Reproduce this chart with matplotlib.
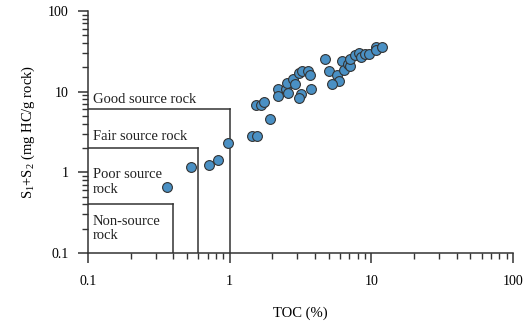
import matplotlib.pyplot as plt
from matplotlib.ticker import FuncFormatter, LogLocator

plt.rcParams["font.family"] = ["Liberation Serif", "DejaVu Serif"]
plt.rcParams["mathtext.fontset"] = "custom"
plt.rcParams["mathtext.rm"] = "Liberation Serif"
plt.rcParams["mathtext.it"] = "Liberation Serif:italic"

# TOC (%) and S1+S2 (mg HC/g rock)
toc = [0.36, 0.53, 0.71, 0.83, 0.98, 1.44, 1.56, 1.93, 1.54, 1.66, 1.75,
       2.18, 2.21, 2.50, 2.54, 2.78, 2.90, 2.58, 3.19, 3.08, 3.11, 3.24,
       3.57, 3.71, 3.75, 4.71, 5.02, 5.69, 5.91, 5.27, 6.17, 6.44, 6.80,
       7.11, 7.11, 7.71, 8.13, 8.46, 9.03, 9.68, 10.7, 10.8, 11.9]
s1s2 = [0.65, 1.17, 1.23, 1.42, 2.33, 2.84, 2.84, 4.6, 6.8, 6.9, 7.5,
        10.9, 8.8, 10.7, 12.9, 14.2, 12.4, 9.5, 9.3, 8.3, 17.1, 17.9,
        18.2, 16.1, 10.9, 25.6, 18.2, 16.1, 13.6, 12.4, 23.7, 18.5, 22.0,
        20.8, 25.1, 28.4, 29.8, 26.6, 29.2, 29.2, 35.4, 32.7, 36.0]

# source rock classes: upper TOC and upper S1+S2 of each box
zones_toc = [1.0, 0.6, 0.4]
zones_s = [6.0, 2.0, 0.4]

fig = plt.figure(figsize=(5.3, 3.21), dpi=100)
ax = fig.add_axes([0.166, 0.212, 0.802, 0.754])

line_kw = dict(color="#333333", lw=1.1, zorder=2)
for xt, ys in zip(zones_toc, zones_s):
    ax.plot([0.1, xt], [ys, ys], **line_kw)
    ax.plot([xt, xt], [0.1, ys], **line_kw)

ax.scatter(toc, s1s2, s=50, color="#4a90c4", edgecolor="#333333",
           linewidth=0.8, zorder=3)

txt = dict(fontsize=10.5, color="#222222", ha="left", va="center")
ax.text(0.108, 8.0, "Good source rock", **txt)
ax.text(0.108, 2.75, "Fair source rock", **txt)
ax.text(0.108, 0.76, "Poor source\nrock", linespacing=1.15, **txt)
ax.text(0.108, 0.2, "Non-source\nrock", linespacing=1.15, **txt)

ax.set_xscale("log")
ax.set_yscale("log")
ax.set_xlim(0.1, 100)
ax.set_ylim(0.1, 100)

fmt = FuncFormatter(lambda v, p: f"{v:g}")
ax.xaxis.set_major_formatter(fmt)
ax.yaxis.set_major_formatter(fmt)
ax.xaxis.set_minor_locator(LogLocator(subs=range(2, 10)))
ax.yaxis.set_minor_locator(LogLocator(subs=range(2, 10)))
ax.tick_params(which="major", length=7, width=1.1, color="#333333",
               labelsize=10)
ax.tick_params(axis="x", which="major", pad=9)
ax.tick_params(axis="y", which="major", pad=7)
ax.tick_params(which="minor", length=4.5, width=1.0, color="#333333")
ax.xaxis.set_minor_formatter(FuncFormatter(lambda v, p: ""))
ax.yaxis.set_minor_formatter(FuncFormatter(lambda v, p: ""))

for side in ["top", "right"]:
    ax.spines[side].set_visible(False)
for side in ["left", "bottom"]:
    ax.spines[side].set_linewidth(1.1)
    ax.spines[side].set_color("#333333")

ax.set_xlabel("TOC (%)", fontsize=10.5, labelpad=13)
ax.set_ylabel("S$_1$+S$_2$ (mg HC/g rock)", fontsize=10.5, labelpad=8)

fig.savefig("out.png", dpi=100)
